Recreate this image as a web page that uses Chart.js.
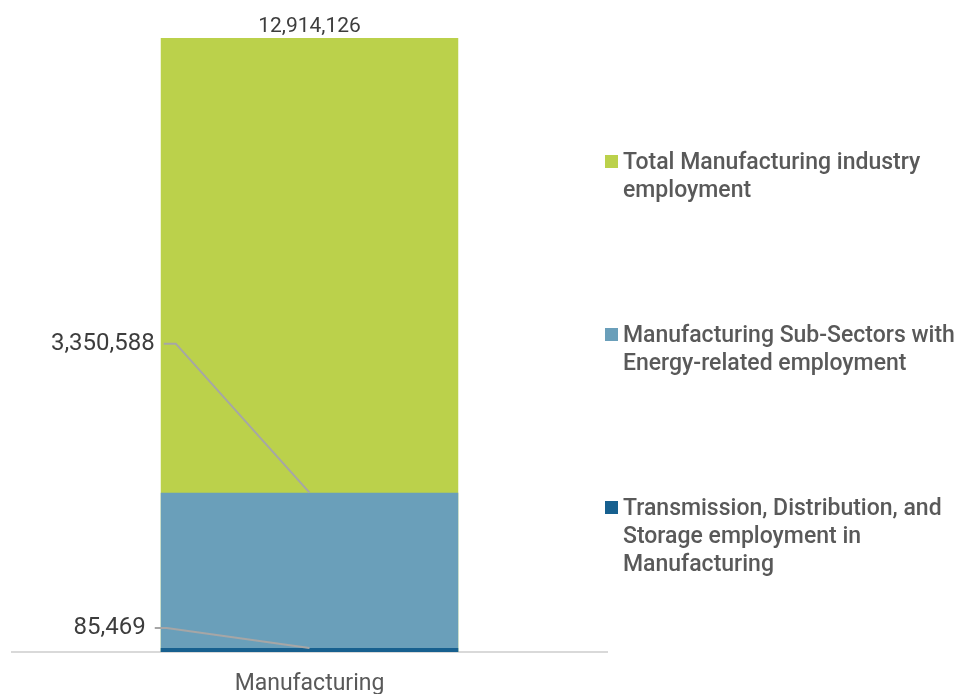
<!DOCTYPE html>
<html>
<head>
<meta charset="utf-8">
<script src="https://cdn.jsdelivr.net/npm/chart.js@4.4.0/dist/chart.umd.min.js"></script>
<style>
  html, body { margin: 0; padding: 0; background: #fff; }
  #wrap { position: relative; width: 962px; height: 694px; }
  #legend { position: absolute; left: 605px; top: 148px; font-family: Roboto, sans-serif; font-weight: 500; font-size: 23px; line-height: 28px; color: #595959; }
  .item { position: relative; padding-left: 18px; margin-bottom: 117px; white-space: nowrap; }
  .swatch { position: absolute; left: 0; top: 7px; width: 13px; height: 13px; }
</style>
</head>
<body>
<div id="wrap">
  <canvas id="chart" width="962" height="694"></canvas>
  <div id="legend"></div>
</div>
<script>
const categories = ['Manufacturing'];
const seriesNames = [
  'Total Manufacturing industry employment',
  'Manufacturing Sub-Sectors with Energy-related employment',
  'Transmission, Distribution, and Storage employment in Manufacturing'
];
// legend line breaks as they appear in the original
const legendLines = [
  ['Total Manufacturing industry', 'employment'],
  ['Manufacturing Sub-Sectors with', 'Energy-related employment'],
  ['Transmission, Distribution, and', 'Storage employment in', 'Manufacturing']
];
const totalEmployment = [12914126];
const energySubSectorEmployment = [3350588];
const tdsEmployment = [85469];
const seriesColors = ['#BBD14B', '#6A9FBA', '#17608F'];

const fmt = v => v.toLocaleString('en-US');

// value labels: total on top, the two smaller ones as callouts on the left
const calloutPlugin = {
  id: 'callouts',
  afterDatasetsDraw(chart) {
    const ctx = chart.ctx;
    const top = chart.getDatasetMeta(0).data[0];
    const barLeft = top.x - top.width / 2;
    ctx.save();
    ctx.font = '21px Roboto';
    ctx.fillStyle = '#3d3d3d';
    ctx.textAlign = 'center';
    ctx.textBaseline = 'bottom';
    ctx.fillText(fmt(chart.data.datasets[0].data[0]), top.x, top.y - 1);

    const callouts = [
      { dataset: 1, dy: -149, gap: 6 },
      { dataset: 2, dy: -20, gap: 15 }
    ];
    ctx.font = '24px Roboto';
    callouts.forEach(c => {
      const el = chart.getDatasetMeta(c.dataset).data[0];
      const ty = el.y + c.dy;
      const tx = barLeft - c.gap;
      ctx.textAlign = 'right';
      ctx.textBaseline = 'middle';
      ctx.fillText(fmt(chart.data.datasets[c.dataset].data[0]), tx, ty);
      ctx.strokeStyle = '#A6A6A6';
      ctx.lineWidth = 2;
      ctx.beginPath();
      ctx.moveTo(tx + 9, ty);
      ctx.lineTo(tx + 21, ty);
      ctx.lineTo(el.x, el.y);
      ctx.stroke();
    });
    ctx.restore();
  }
};

const seriesData = [totalEmployment, energySubSectorEmployment, tdsEmployment];

new Chart(document.getElementById('chart'), {
  type: 'bar',
  data: {
    labels: categories,
    datasets: seriesData.map((d, i) => ({
      label: seriesNames[i],
      data: d,
      backgroundColor: seriesColors[i],
      order: 3 - i,
      grouped: false,
      barPercentage: 1,
      categoryPercentage: 0.5
    }))
  },
  options: {
    responsive: false,
    animation: false,
    devicePixelRatio: 1,
    layout: { padding: { top: 38, left: 12, right: 355, bottom: 0 } },
    plugins: {
      legend: { display: false },
      tooltip: { enabled: false }
    },
    scales: {
      x: {
        grid: { display: false, drawTicks: false },
        border: { display: true, color: '#D9D9D9', width: 2 },
        ticks: { color: '#595959', font: { family: 'Roboto', size: 23 }, padding: 18 },
        afterFit(scale) { scale.height = 42; }
      },
      y: {
        display: false,
        min: 0,
        max: totalEmployment[0]
      }
    }
  },
  plugins: [calloutPlugin]
});

const legend = document.getElementById('legend');
seriesNames.forEach((name, i) => {
  const item = document.createElement('div');
  item.className = 'item';
  item.title = name;
  item.innerHTML = '<span class="swatch" style="background:' + seriesColors[i] + '"></span>' +
    legendLines[i].join('<br>');
  legend.appendChild(item);
});
</script>
</body>
</html>
